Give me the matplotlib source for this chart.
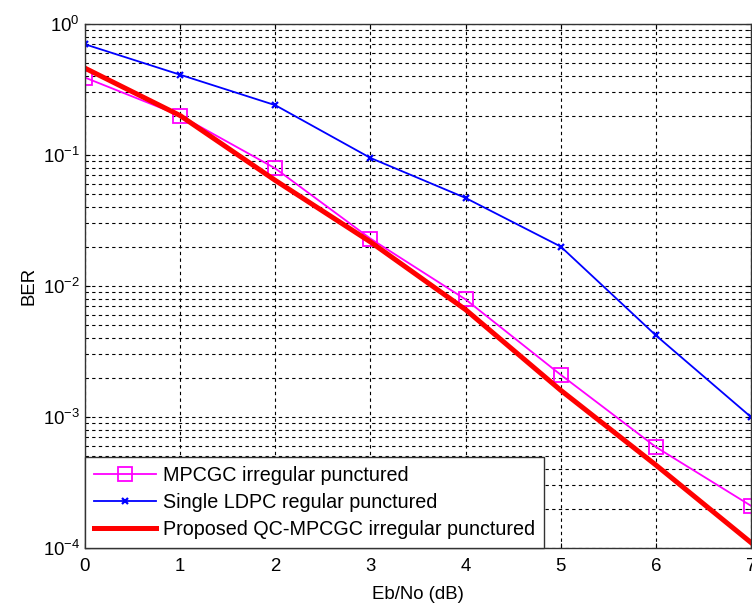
import numpy as np
import matplotlib
matplotlib.use("Agg")
import matplotlib.pyplot as plt
from matplotlib.ticker import LogLocator, FixedLocator

# data
ebno = [0, 1, 2, 3, 4, 5, 6, 7]
ber_mpcgc = [0.39, 0.20, 0.079, 0.023, 0.0079, 0.0021, 5.9e-4, 2.1e-4]
ber_ldpc = [0.70, 0.41, 0.24, 0.095, 0.047, 0.020, 0.0042, 1.0e-3]
ber_qc = [0.46, 0.20, 0.064, 0.0217, 0.0066, 0.0016, 4.3e-4, 1.1e-4]

plt.rcParams['font.family'] = ['Liberation Sans', 'DejaVu Sans']
plt.rcParams['mathtext.fontset'] = 'custom'
plt.rcParams['mathtext.rm'] = 'Liberation Sans'
plt.rcParams['mathtext.it'] = 'Liberation Sans'
plt.rcParams['axes.unicode_minus'] = False

fig = plt.figure(figsize=(7.52, 6.03), dpi=100)
ax = fig.add_axes([85/752, 55/603, 666/752, 524/603])

ax.plot(ebno, ber_mpcgc, color='#ff00ff', lw=1.3, marker='s', ms=9.5,
        mfc='none', mec='#ff00ff', mew=1.3, label='MPCGC irregular punctured')
ax.plot(ebno, ber_ldpc, color='#0000ff', lw=1.3, marker='x', ms=5,
        mew=1.6, label='Single LDPC regular punctured')
ax.plot(ebno, ber_qc, color='#ff0000', lw=3.6,
        label='Proposed QC-MPCGC irregular punctured')

ax.set_yscale('log')
ax.set_xlim(0, 7)
ax.set_ylim(1e-4, 1)
ax.xaxis.set_major_locator(FixedLocator(ebno))
ax.yaxis.set_major_locator(LogLocator(base=10, numticks=10))
ax.yaxis.set_minor_locator(LogLocator(base=10, subs=np.arange(2, 10), numticks=20))

grid_kw = dict(color='black', linestyle=(0, (3, 3)), linewidth=0.8)
ax.grid(True, which='major', axis='both', **grid_kw)
ax.grid(True, which='minor', axis='y', **grid_kw)
ax.set_axisbelow(True)

ax.tick_params(which='both', direction='in', top=True, right=True,
               labelsize=13.4, colors='black')
ax.tick_params(axis='y', which='minor', labelleft=False)
ax.tick_params(axis='x', pad=7)
for s in ax.spines.values():
    s.set_linewidth(1.0)
    s.set_color('#333333')

ax.set_xlabel('Eb/No (dB)', fontsize=13.4, labelpad=8)
ax.set_ylabel('BER', fontsize=13.4, labelpad=4)

leg = ax.legend(loc='lower left', fontsize=14.2, frameon=True, fancybox=False,
                borderaxespad=0, handlelength=3.15, borderpad=0.45,
                labelspacing=0.4, handletextpad=0.35)
leg.get_frame().set_edgecolor('#333333')
leg.get_frame().set_linewidth(1.0)
leg.get_frame().set_alpha(1)

fig.savefig('out.png', dpi=100)
